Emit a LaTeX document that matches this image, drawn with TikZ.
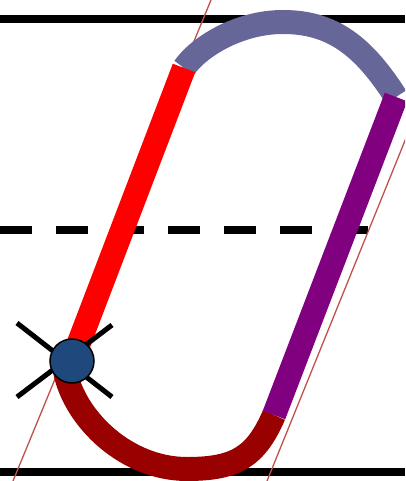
\documentclass[tikz,border=0pt]{standalone}
\definecolor{arcblue}{RGB}{102,102,153}
\definecolor{arcred}{RGB}{153,0,0}
\definecolor{lpurple}{RGB}{128,0,128}
\definecolor{thinred}{RGB}{192,80,77}
\definecolor{dotblue}{RGB}{31,73,125}
\begin{document}
\begin{tikzpicture}[x=1pt,y=-1pt,
  band/.style={line width=24pt},
  rule/.style={line width=7.5pt, black},
  guide/.style={thinred, line width=1.3pt}]
\useasboundingbox (0,0) rectangle (405,481);
\clip (0,0) rectangle (405,481);
\coordinate (redTop) at (184,68);
\coordinate (redBot) at (72,361);
\coordinate (purTop) at (396,97);
\coordinate (purBot) at (274,415);
\coordinate (apex) at (283,22);
\coordinate (low) at (187,469);
\coordinate (arcStart) at (65,371);
\draw[rule] (0,19) -- (405,19);
\draw[rule] (0,472) -- (405,472);
\draw[rule, dash pattern=on 32pt off 24pt] (0,230) -- (369,230);
\draw[guide] (13,481) -- (211,0);
\draw[guide] (267,481) -- (462,0);
\draw[band, arcblue] (redTop) .. controls (198,47.5) and (238,22) .. (apex) .. controls (333,22) and (363.6,46.6) .. (purTop);
\draw[band, arcred] (arcStart) .. controls (75,420) and (127,469) .. (low) .. controls (237,469) and (256,456) .. (purBot);
\draw[band, red] (redBot) -- (redTop);
\draw[band, lpurple] (purBot) -- (purTop);
\draw[line width=5pt] (17,323) -- (112,397) (17,397) -- (112,325);
\node[circle, draw, line width=1.5pt, fill=dotblue, minimum size=44pt, inner sep=0pt] (dot) at (72,361) {};
\end{tikzpicture}
\end{document}
